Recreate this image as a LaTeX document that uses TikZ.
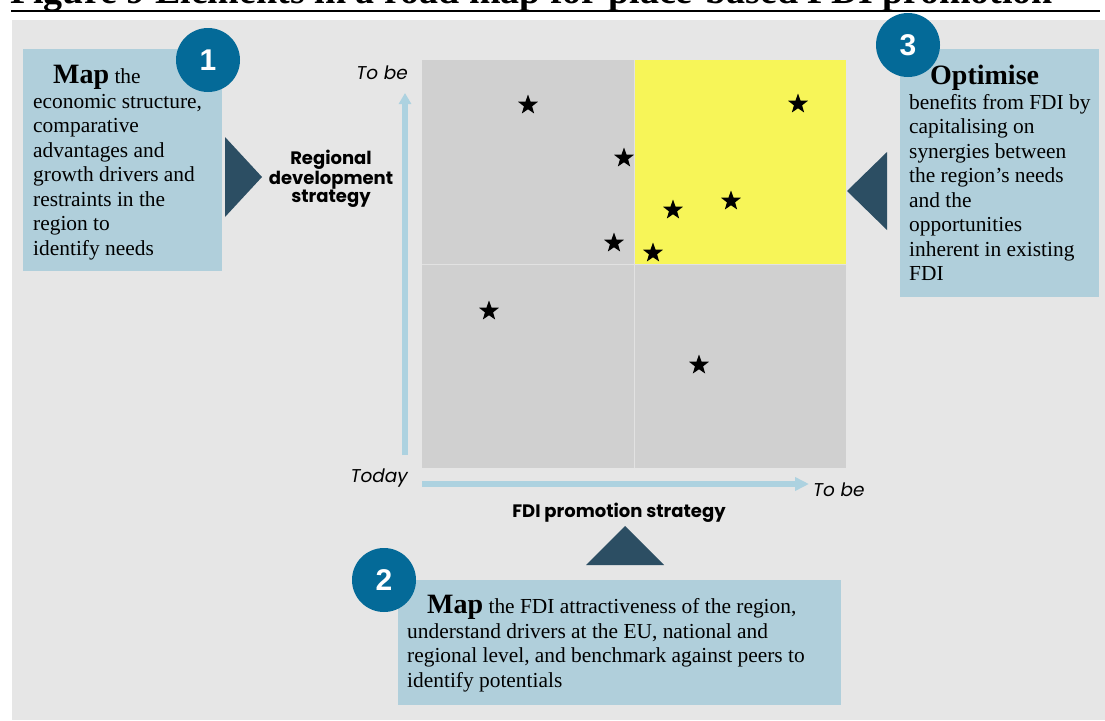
\documentclass[tikz,border=0pt]{standalone}
\usepackage{fontspec}
\setmainfont{Liberation Serif}
\setsansfont{Poppins}
\newfontfamily\numfont{Liberation Sans}
\usetikzlibrary{shapes.geometric,arrows.meta}
\definecolor{bgc}{RGB}{230,230,230}
\definecolor{boxc}{RGB}{176,207,219}
\definecolor{circc}{RGB}{4,106,152}
\definecolor{tric}{RGB}{44,78,99}
\definecolor{qgray}{RGB}{208,208,208}
\definecolor{qyel}{RGB}{247,245,88}
\definecolor{arrc}{RGB}{173,210,224}
\definecolor{divc}{RGB}{226,226,226}
\newcommand{\leadword}[1]{{\bfseries\fontsize{28}{28}\selectfont #1}}
\begin{document}
\begin{tikzpicture}[x=1pt,y=-1pt,
  infobox/.style={fill=boxc, draw=none},
  numcirc/.style={circle, fill=circc, minimum size=64pt, inner sep=0pt, text=white, font=\numfont\bfseries\fontsize{30}{30}\selectfont},
  bodytext/.style={anchor=north west, inner sep=0pt, align=left, font=\fontsize{21.4}{24.5}\selectfont},
  axislabel/.style={inner sep=0pt, font=\sffamily\itshape\fontsize{18.5}{18.5}\selectfont},
  starn/.style={star, star points=5, star point ratio=2.45, fill=black, minimum size=21pt, inner sep=0pt},
  pointer/.style={fill=tric},
  axisarrow/.style={draw=arrc, line width=6pt}
]
\useasboundingbox (0,0) rectangle (1105,720);
\clip (0,0) rectangle (1105,720);
% title (cut off in the reference)
\node[anchor=base west, inner sep=0pt, font=\bfseries\fontsize{38}{38}\selectfont] (title) at (10,3) {Figure 9 Elements in a road map for place-based FDI promotion};
\draw[line width=2pt] (11,11) -- (1100,11);
% background
\fill[bgc] (12,20) rectangle (1105,720);

% quadrant
\fill[qgray] (422,60) rectangle (634,264);
\fill[qyel] (634,60) rectangle (846,264);
\fill[qgray] (422,264) rectangle (634,468);
\fill[qgray] (634,264) rectangle (846,468);
\draw[divc, line width=1pt] (634,264) -- (634,468);
\draw[divc, line width=1pt] (422,264) -- (846,264);
\draw[divc, line width=1pt] (634,60) -- (634,264);

% stars
\node[starn] (s1) at (528,105) {};
\node[starn] (s2) at (624,158) {};
\node[starn] (s3) at (614,243) {};
\node[starn] (s4) at (673,210) {};
\node[starn] (s5) at (731,201) {};
\node[starn] (s6) at (653,253) {};
\node[starn] (s7) at (798,104) {};
\node[starn] (s8) at (489,311) {};
\node[starn] (s9) at (699,365) {};

% axes
\coordinate (vbot) at (405,455);
\coordinate (vtop) at (405,93);
\coordinate (hleft) at (422,484);
\coordinate (hright) at (809,484);
\draw[axisarrow, -{Triangle[width=12pt,length=11pt]}] (vbot) -- (vtop);
\draw[axisarrow, -{Triangle[width=13pt,length=14pt]}] (hleft) -- (hright);
\node[axislabel, anchor=base east] (tobeup) at (408,79) {To be};
\node[axislabel, anchor=base east] (today) at (408,482) {Today};
\node[axislabel, anchor=base west] (toberight) at (813,496) {To be};

% axis titles
\node[inner sep=0pt, align=center, font=\sffamily\bfseries\fontsize{18}{14.5}\selectfont] (rds) at (331,179) {Regional\\development\\strategy};
\node[anchor=base, inner sep=0pt, font=\sffamily\bfseries\fontsize{18}{18}\selectfont] (fdis) at (619,517) {FDI promotion strategy};

% box 1
\fill[infobox] (23,49) rectangle (222,271);
\node[bodytext] (t1) at (33,65) {\hspace*{20pt}\leadword{Map} the\\economic structure,\\comparative\\advantages and\\growth drivers and\\restraints in the\\region to\\identify needs};
\node[numcirc] (c1) at (208,60) {1};
\fill[pointer] (225,137) -- (225,217) -- (262,177) -- cycle;

% box 3
\fill[infobox] (900,49) rectangle (1099,297);
\node[bodytext] (t3) at (909,65) {\hspace*{21pt}\leadword{Optimise}\\benefits from FDI by\\capitalising on\\synergies between\\the region’s needs\\and the\\opportunities\\inherent in existing\\FDI};
\node[numcirc] (c3) at (908,45) {3};
\fill[pointer] (887,152) -- (887,230) -- (847,191) -- cycle;

% box 2
\fill[infobox] (398,580) rectangle (841,705);
\node[bodytext] (t2) at (407,595) {\hspace*{20pt}\leadword{Map} the FDI attractiveness of the region,\\understand drivers at the EU, national and\\regional level, and benchmark against peers to\\identify potentials};
\node[numcirc] (c2) at (384,580) {2};
\fill[pointer] (625,526) -- (586,565) -- (664,565) -- cycle;
\end{tikzpicture}
\end{document}
